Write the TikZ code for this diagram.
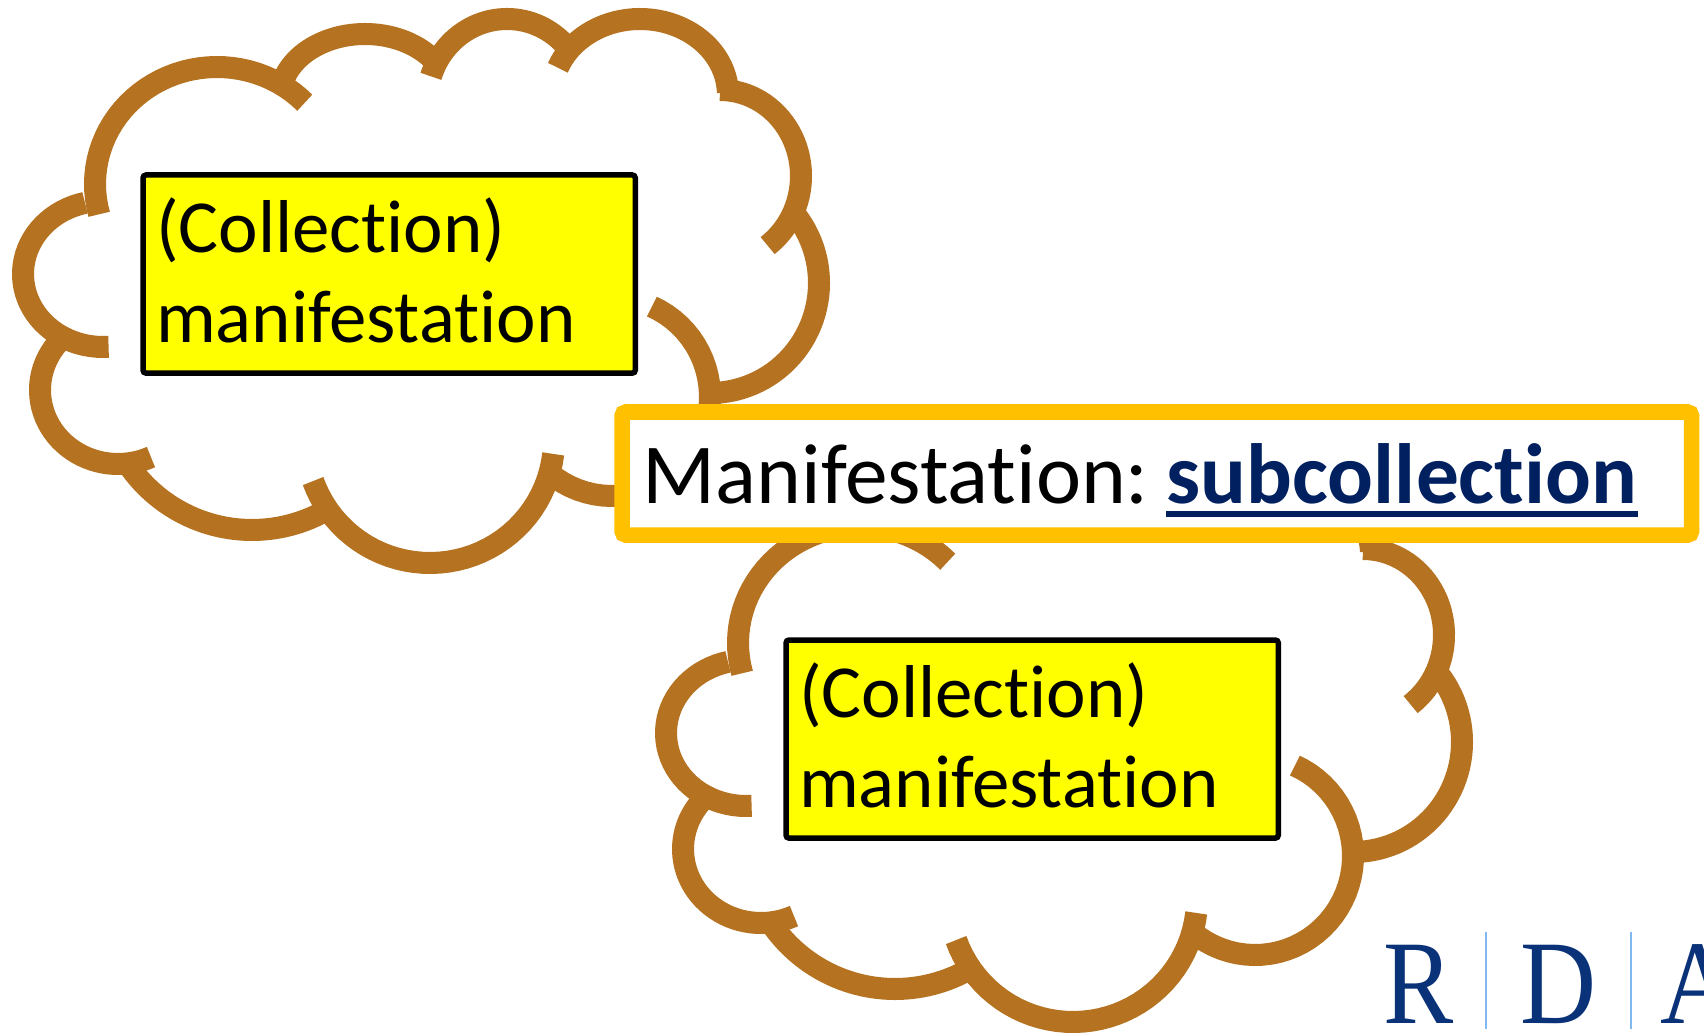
\documentclass[tikz,border=0pt]{standalone}
\usepackage{fontspec}
\setmainfont{Carlito}[Ligatures=NoCommon]
\newfontfamily\logofont{Liberation Serif}
\definecolor{cloudbrown}{HTML}{B57220}
\definecolor{boxyellow}{HTML}{FFFF00}
\definecolor{notegold}{HTML}{FFC000}
\definecolor{linknavy}{HTML}{002060}
\definecolor{logoblue}{HTML}{0A3278}
\definecolor{logobar}{HTML}{80B8F0}
\tikzset{
    lobe/.style={cloudbrown, line width=0.22cm, variable=\t, samples=40},
    factbox/.style={draw=black, fill=boxyellow, line width=0.055cm, rounded corners=0.03cm,
        anchor=north west, outer sep=0pt, minimum width=4.92cm, minimum height=1.98cm, text width=4.66cm,
        inner sep=0.13cm, align=left, font=\fontsize{21.3}{25.6}\selectfont},
    notebox/.style={draw=notegold, fill=white, line width=0.155cm, rounded corners=0.04cm,
        anchor=north west, outer sep=0pt, minimum width=10.69cm, minimum height=1.23cm},
    logoletter/.style={logoblue, anchor=base west, inner sep=0pt, xscale=0.88, font=\logofont\fontsize{34}{34}\selectfont}
}

\begin{document}
\begin{tikzpicture}[x=0.01cm, y=-0.01cm]
    \clip (0,0) rectangle (1704,1034);

    % Clouds (same outline twice)
    \foreach \name/\dx/\dy/\boxy in {first/0/0/175,second/643/459/181}{
        \begin{scope}[shift={(\dx,\dy)}]
            % Lobes: centre, radii, angle range
            \foreach \cx/\cy/\rx/\ry/\from/\to in {
                217/184/122/117/165/316,
                365/98/85/64/200/324,
                507/102/80/83/198/315,
                640/95/88/76/201/358,
                720/176/81/86/270/414,
                710/283/109/110/322/446,
                612/397/98/99/-66/125,
                430/440/124/123/6.5/160.5,
                252/380/150/150/63/144,
                118/390/78/74/65/223,
                103/274/80/73/86/257}{
                \draw[lobe, domain=\from:\to] plot ({\cx+\rx*cos(\t)},{\cy+\ry*sin(\t)});
            }
            \node[factbox] (box\name) at (143,\boxy) {(Collection)\\manifestation\rule[-2pt]{0pt}{2pt}};
        \end{scope}
    }

    % Note across both clouds
    \node[notebox] (note) at (622,412) {};
    \node[anchor=base west, inner sep=0pt, font=\fontsize{24.3}{29}\selectfont] (notelabel) at (642,503) {Manifestation:};
    \node[anchor=base west, inner sep=0pt, text=linknavy, font=\fontsize{24.3}{29}\selectfont\bfseries] (notelink) at (1166,503) {subcollection};
    \draw[linknavy, line width=0.05cm] ([yshift=-11*0.01cm]notelink.base west) -- ([yshift=-11*0.01cm]notelink.base east);

    % Logo
    \node[logoletter] (logoR) at (1383,1023) {R};
    \node[logoletter] (logoD) at (1520,1023) {D};
    \node[logoletter] (logoA) at (1660,1023) {A};
    \foreach \x in {1486,1631}{
        \draw[logobar, line width=0.02cm] (\x,932) -- (\x,1029);
    }
\end{tikzpicture}
\end{document}
